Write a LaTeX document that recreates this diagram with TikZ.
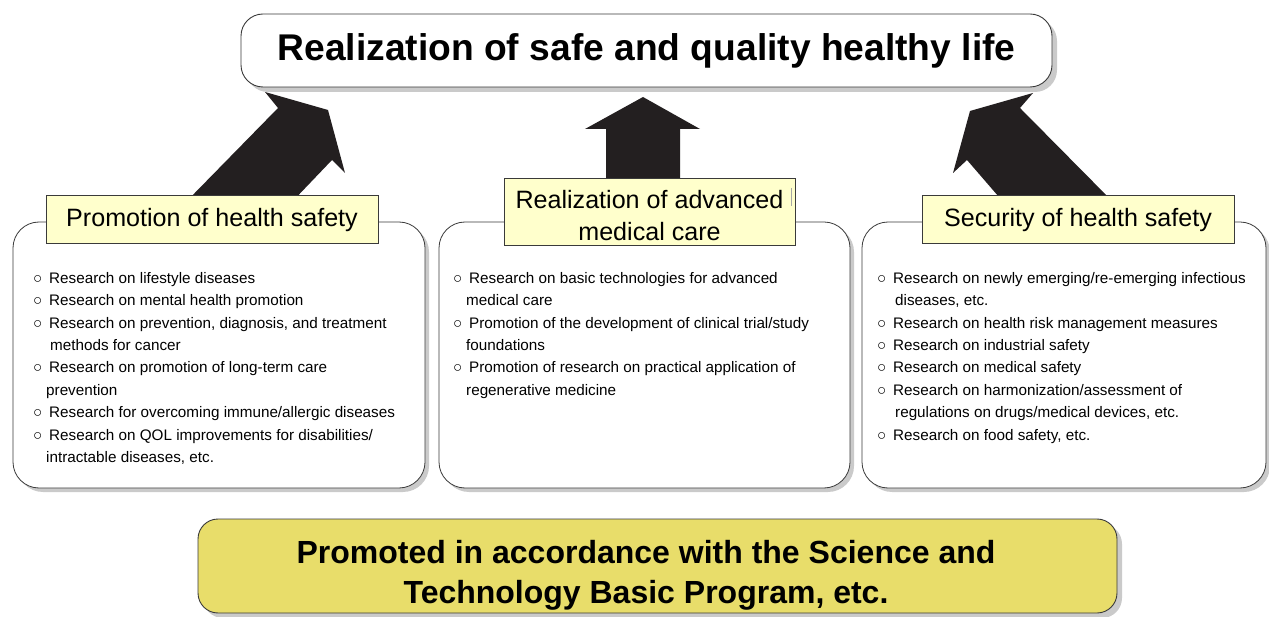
\documentclass[tikz,border=0pt]{standalone}
\usepackage{fontspec}
\setmainfont{Liberation Sans}
\usetikzlibrary{positioning, shadows}
\definecolor{Dark}{HTML}{231F20}
\definecolor{Edge}{HTML}{3A3A3A}
\definecolor{Pale}{HTML}{FFFFCC}
\definecolor{Mustard}{HTML}{E8DD6A}
\definecolor{Shade}{HTML}{CACACA}
\newcommand{\itm}{\makebox[16pt][l]{○}}
\newcommand{\cont}[1]{\hspace*{#1}}
\tikzset{
    goalnode/.style={rectangle, rounded corners=22pt, draw=Edge, fill=white, line width=0.9pt, inner sep=0pt, font=\fontsize{37.2}{40}\selectfont\bfseries, drop shadow={shadow xshift=5pt, shadow yshift=-5pt, fill=Shade, opacity=1}},
    panelnode/.style={rectangle, rounded corners=26pt, draw=Edge, fill=white, line width=0.8pt, inner sep=0pt, drop shadow={shadow xshift=4pt, shadow yshift=-4pt, fill=Shade, opacity=1}},
    tagnode/.style={rectangle, draw=Edge, fill=Pale, line width=1pt, inner sep=0pt, align=center, font=\fontsize{25.1}{32}\selectfont},
    listnode/.style={inner sep=0pt, align=left, anchor=north west, font=\fontsize{15.25}{22.4}\selectfont},
    basenode/.style={rectangle, rounded corners=20pt, draw=Edge, fill=Mustard, line width=0.9pt, inner sep=0pt, drop shadow={shadow xshift=5pt, shadow yshift=-5pt, fill=Shade, opacity=1}},
    blockarrow/.style={fill=Dark},
}
\begin{document}
\begin{tikzpicture}[x=1pt, y=-1pt]
    \useasboundingbox (0,0) rectangle (1269,617);

    % block arrows (under the boxes)
    \fill[blockarrow] (183,205) -- (278,108) -- (265,92) -- (328,110) -- (345,173) -- (332,160) -- (289,205) -- cycle;
    \fill[blockarrow] (643,97) -- (700,129) -- (680,129) -- (680,185) -- (606,185) -- (606,129) -- (585,129) -- cycle;
    \fill[blockarrow] (970,111) -- (1033,93) -- (1020,108) -- (1115,204) -- (1005,204) -- (967,160) -- (953,173) -- cycle;

    % goal
    \node[goalnode, minimum width=811pt, minimum height=73pt] (goal) at (646.5,50.5) {Realization of safe and quality healthy life};

    % three panels
    \node[panelnode, minimum width=412pt, minimum height=266pt] (promo) at (219,355) {};
    \node[panelnode, minimum width=411pt, minimum height=266pt] (medical) at (644.5,355) {};
    \node[panelnode, minimum width=404pt, minimum height=266pt] (security) at (1064,355) {};

    \node[tagnode, minimum width=332pt, minimum height=48pt] (promotag) at (212,220) {Promotion of health safety};
    \node[tagnode, minimum width=291pt, minimum height=67pt] (medicaltag) at (649.5,212.5) {\rule{0pt}{24.5pt}Realization of advanced\\medical care};
    \draw[gray!70, line width=0.8pt] (791,188) -- (791,206);
    \node[tagnode, minimum width=312pt, minimum height=48pt] (securitytag) at (1078,220) {Security of health safety};

    % item lists
    \node[listnode] (promolist) at (33,272) {%
        \itm Research on lifestyle diseases\\
        \itm Research on mental health promotion\\
        \itm Research on prevention, diagnosis, and treatment\\
        \cont{17pt}methods for cancer\\
        \itm Research on promotion of long-term care\\
        \cont{13pt}prevention\\
        \itm Research for overcoming immune/allergic diseases\\
        \itm Research on QOL improvements for disabilities/\\
        \cont{13pt}intractable diseases, etc.};
    \node[listnode] (medicallist) at (453,272) {%
        \itm Research on basic technologies for advanced\\
        \cont{13pt}medical care\\
        \itm Promotion of the development of clinical trial/study\\
        \cont{13pt}foundations\\
        \itm Promotion of research on practical application of\\
        \cont{13pt}regenerative medicine};
    \node[listnode] (securitylist) at (877,272) {%
        \itm Research on newly emerging/re-emerging infectious\\
        \cont{18pt}diseases, etc.\\
        \itm Research on health risk management measures\\
        \itm Research on industrial safety\\
        \itm Research on medical safety\\
        \itm Research on harmonization/assessment of\\
        \cont{18pt}regulations on drugs/medical devices, etc.\\
        \itm Research on food safety, etc.};

    % basis
    \node[basenode, minimum width=919pt, minimum height=94pt] (basis) at (657.5,566) {};
    \node[align=center, inner sep=0pt, font=\fontsize{32}{40}\selectfont\bfseries] (basistext) at (646,575) {Promoted in accordance with the Science and\\Technology Basic Program, etc.};
\end{tikzpicture}
\end{document}
